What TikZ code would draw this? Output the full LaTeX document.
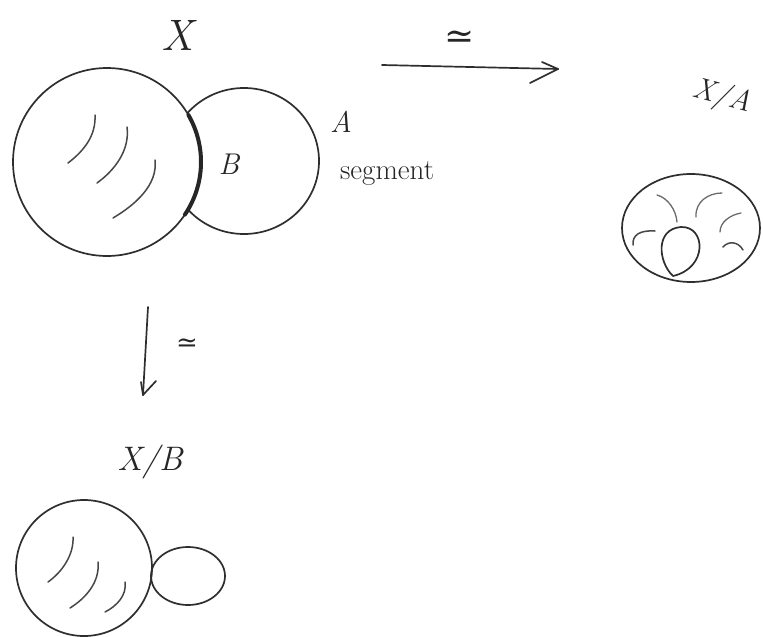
\documentclass[tikz,border=0pt]{standalone}
\usepackage{fontspec}
\newfontfamily\symfont{DejaVu Serif}
\usetikzlibrary{arrows.meta}
\begin{document}
\begin{tikzpicture}[x=1pt,y=-1pt, line cap=round, line join=round,
  ink/.style={draw=black!82, line width=1.7pt},
  hatch/.style={draw=black!72, line width=1.5pt},
  lighthatch/.style={draw=black!58, line width=1.3pt},
  lbl/.style={text=black!85, inner sep=0pt}]
\useasboundingbox (0,0) rectangle (763,637);

% ---------- X ----------
\node[lbl, font=\fontsize{44}{44}\selectfont\itshape] (X) at (177,35) {X};
\draw[ink] (107,162) circle[radius=94];
\begin{scope}[even odd rule]
  \clip (0,0) rectangle (763,637) (107,162) circle[radius=94];
  \draw[ink] (244,161) ellipse[x radius=75, y radius=73];
\end{scope}
\draw[draw=black!85, line width=4pt] (107,162) ++(-30:94) arc[start angle=-30, end angle=34, radius=94];
\draw[hatch] (95,115) .. controls (96,135) and (85,150) .. (68,163);
\draw[hatch] (127,127) .. controls (130,150) and (115,170) .. (97,183);
\draw[hatch] (155,160) .. controls (158,185) and (135,205) .. (113,218);
\node[lbl, font=\fontsize{30}{30}\selectfont\itshape] (B) at (229,164) {B};
\node[lbl, font=\fontsize{30}{30}\selectfont\itshape] (A) at (341,122) {A};
\node[lbl, font=\fontsize{29}{29}\selectfont] (seg) at (387,174) {segment};

% ---------- right arrow ----------
\coordinate (ra1) at (382,65);
\coordinate (ra2) at (558,69);
\draw[ink] (ra1) -- (ra2);
\draw[ink] (ra2) -- ++(-28,14);
\draw[ink] (ra2) -- ++(-16,-7);
\node[lbl, font=\fontsize{36}{36}\symfont] (sim1) at (460,40) {≃};

% ---------- X/A ----------
\node[lbl, font=\fontsize{30}{30}\selectfont\itshape, rotate=-15] (XA) at (722,97) {X/A};
\draw[ink] (691,228) ellipse[x radius=69, y radius=54];
\draw[ink] (673,276) .. controls (658,262) and (655,229) .. (681,227) .. controls (706,226) and (708,268) .. (673,276);
\draw[lighthatch] (657,195) .. controls (668,198) and (676,210) .. (677,222);
\draw[lighthatch] (696,217) .. controls (695,202) and (708,193) .. (722,193);
\draw[lighthatch] (720,232) .. controls (720,222) and (730,215) .. (741,213);
\draw[hatch] (723,247) .. controls (728,241) and (738,241) .. (743,250);
\draw[hatch] (633,245) .. controls (632,235) and (640,230) .. (655,231);

% ---------- down arrow ----------
\coordinate (da1) at (148,307);
\coordinate (da2) at (143,395);
\draw[ink] (da1) -- (da2);
\draw[ink] (da2) -- ++(-2,-13);
\draw[ink] (da2) -- ++(13,-14);
\node[lbl, font=\fontsize{26}{26}\symfont] (sim2) at (187,345) {≃};

% ---------- X/B ----------
\node[lbl, font=\fontsize{34}{34}\selectfont\itshape] (XB) at (150,462) {X/B};
\draw[ink] (84,568) circle[radius=68];
\draw[ink] (188,576) ellipse[x radius=37, y radius=29];
\draw[hatch] (73,537) .. controls (74,555) and (62,572) .. (48,582);
\draw[hatch] (98,562) .. controls (100,582) and (86,598) .. (70,608);
\draw[hatch] (125,582) .. controls (127,595) and (117,606) .. (105,612);
\end{tikzpicture}
\end{document}
